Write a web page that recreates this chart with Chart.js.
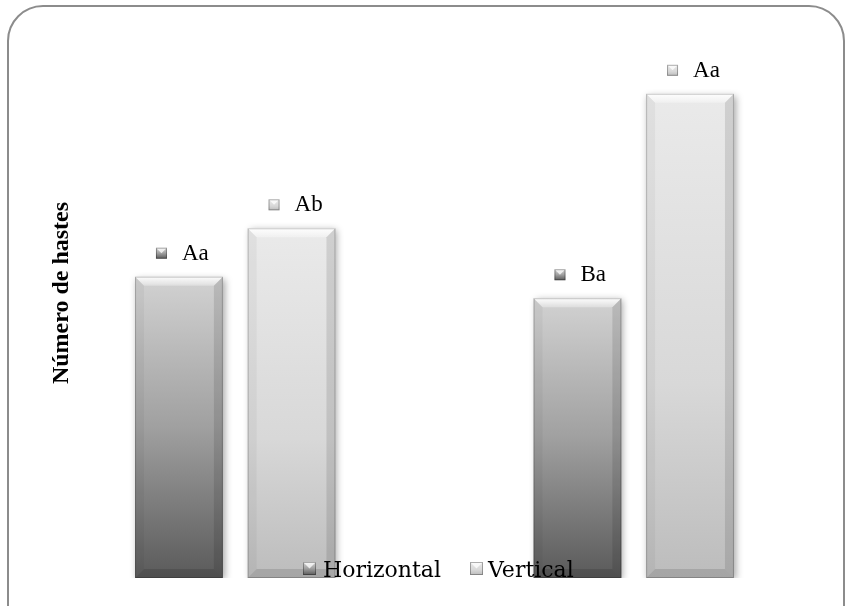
<!DOCTYPE html>
<html>
<head>
<meta charset="utf-8">
<script src="https://cdn.jsdelivr.net/npm/chart.js@4"></script>
<style>
html,body{margin:0;padding:0;background:#fff;overflow:hidden;}
#wrap{position:relative;width:849px;height:606px;}
#frame{position:absolute;left:7px;top:5px;width:838px;height:700px;border:2px solid #8c8c8c;border-radius:36px;box-sizing:border-box;}
canvas{position:absolute;left:0;top:0;}
</style>
</head>
<body>
<div id="wrap">
<div id="frame"></div>
<canvas id="c" width="849" height="606"></canvas>
</div>
<script>
const categories = ['1', '2'];
const seriesNames = ['Horizontal', 'Vertical'];
const horizontalValues = [5.6, 5.2];
const verticalValues = [6.5, 9.0];
const horizontalLabels = ['Aa', 'Ba'];
const verticalLabels = ['Ab', 'Aa'];
const yTitle = 'Número de hastes';

const stopsH = [[0,'#d2d2d2'],[0.5,'#a0a0a0'],[1,'#5a5a5a']];
const stopsV = [[0,'#eaeaea'],[0.6,'#d8d8d8'],[1,'#bcbcbc']];

function makeGrad(c, stops){
  const chart = c.chart;
  if (!chart.chartArea || c.raw === undefined) return stops[1][1];
  const ys = chart.scales.y;
  const top = ys.getPixelForValue(c.raw), bottom = ys.getPixelForValue(0);
  const g = chart.ctx.createLinearGradient(0, top, 0, bottom);
  stops.forEach(s => g.addColorStop(s[0], s[1]));
  return g;
}
const allStops = [stopsH, stopsV];
const allLabels = [horizontalLabels, verticalLabels];

const shadowPlugin = {
  id: 'shadow',
  beforeDatasetsDraw(chart){
    const ctx = chart.ctx; ctx.save();
    ctx.shadowColor = 'rgba(0,0,0,0.35)'; ctx.shadowBlur = 7; ctx.shadowOffsetX = 2; ctx.shadowOffsetY = 2;
  },
  afterDatasetsDraw(chart){
    const ctx = chart.ctx; ctx.restore();
    chart.data.datasets.forEach((ds, di) => {
      chart.getDatasetMeta(di).data.forEach(bar => {
        const p = bar.getProps(['x','y','base','width'], true);
        const x0 = p.x - p.width/2, x1 = p.x + p.width/2, y0 = p.y, y1 = p.base, d = 9;
        ctx.save();
        const tg = ctx.createLinearGradient(0, y0, 0, y0+d);
        tg.addColorStop(0,'rgba(255,255,255,0.95)'); tg.addColorStop(1,'rgba(255,255,255,0.3)');
        ctx.fillStyle = tg;
        ctx.beginPath(); ctx.moveTo(x0,y0); ctx.lineTo(x1,y0); ctx.lineTo(x1-d,y0+d); ctx.lineTo(x0+d,y0+d); ctx.closePath(); ctx.fill();
        ctx.fillStyle = 'rgba(0,0,0,0.04)';
        ctx.beginPath(); ctx.moveTo(x0,y0); ctx.lineTo(x0+d,y0+d); ctx.lineTo(x0+d,y1-d); ctx.lineTo(x0,y1); ctx.closePath(); ctx.fill();
        ctx.fillStyle = 'rgba(0,0,0,0.11)';
        ctx.beginPath(); ctx.moveTo(x1,y0); ctx.lineTo(x1-d,y0+d); ctx.lineTo(x1-d,y1-d); ctx.lineTo(x1,y1); ctx.closePath(); ctx.fill();
        ctx.fillStyle = 'rgba(0,0,0,0.12)';
        ctx.beginPath(); ctx.moveTo(x0,y1); ctx.lineTo(x0+d,y1-d); ctx.lineTo(x1-d,y1-d); ctx.lineTo(x1,y1); ctx.closePath(); ctx.fill();
        ctx.strokeStyle = 'rgba(0,0,0,0.2)'; ctx.lineWidth = 1;
        ctx.strokeRect(x0+0.5, y0+0.5, p.width-1, y1-y0-1);
        ctx.restore();
      });
    });
    chart.data.datasets.forEach((ds, di) => {
      chart.getDatasetMeta(di).data.forEach((bar, i) => {
        const cy = bar.y - 24;
        drawMarker(ctx, bar.x - 23, cy - 5, 11, allStops[di]);
        ctx.save();
        ctx.fillStyle = '#000'; ctx.font = '23px "Liberation Serif", "Times New Roman", serif';
        ctx.textAlign = 'left'; ctx.textBaseline = 'middle';
        ctx.fillText(allLabels[di][i], bar.x + 3, cy + 1);
        ctx.restore();
      });
    });
    const legendPos = [[303, 323], [470, 488]];
    seriesNames.forEach((n, di) => {
      drawMarker(ctx, legendPos[di][0], 562, 13, allStops[di]);
      ctx.save();
      ctx.fillStyle = '#000'; ctx.font = '22px "DejaVu Serif", serif';
      ctx.textAlign = 'left'; ctx.textBaseline = 'alphabetic';
      ctx.fillText(n, legendPos[di][1], 577);
      ctx.restore();
    });
    ctx.save();
    ctx.translate(68, 293); ctx.rotate(-Math.PI/2);
    ctx.fillStyle = '#000'; ctx.font = 'bold 24px "Liberation Serif", "Times New Roman", serif';
    ctx.textAlign = 'center'; ctx.textBaseline = 'alphabetic';
    ctx.fillText(yTitle, 0, 0);
    ctx.restore();
  }
};

function drawMarker(ctx, x, y, s, stops){
  ctx.save();
  const g = ctx.createLinearGradient(0, y, 0, y+s);
  stops.forEach(st => g.addColorStop(st[0], st[1]));
  ctx.fillStyle = g; ctx.fillRect(x, y, s, s);
  ctx.fillStyle = 'rgba(255,255,255,0.75)';
  ctx.beginPath(); ctx.moveTo(x,y); ctx.lineTo(x+s,y); ctx.lineTo(x+s/2,y+s/2); ctx.closePath(); ctx.fill();
  ctx.strokeStyle = 'rgba(0,0,0,0.3)'; ctx.lineWidth = 1; ctx.strokeRect(x+0.5,y+0.5,s-1,s-1);
  ctx.restore();
}

new Chart(document.getElementById('c'), {
  type: 'bar',
  data: {
    labels: categories,
    datasets: [
      { label: seriesNames[0], data: horizontalValues, backgroundColor: c => makeGrad(c, stopsH), borderWidth: 0 },
      { label: seriesNames[1], data: verticalValues, backgroundColor: c => makeGrad(c, stopsV), borderWidth: 0 }
    ]
  },
  options: {
    responsive: false,
    animation: false,
    devicePixelRatio: 1,
    categoryPercentage: 0.565,
    barPercentage: 0.78,
    layout: { padding: { left: 36, right: 16, top: 40, bottom: 28 } },
    plugins: { legend: { display: false }, tooltip: { enabled: false }, title: { display: false } },
    scales: {
      x: { display: false },
      y: { display: false, min: 0, max: 10 }
    }
  },
  plugins: [shadowPlugin]
});
</script>
</body>
</html>
